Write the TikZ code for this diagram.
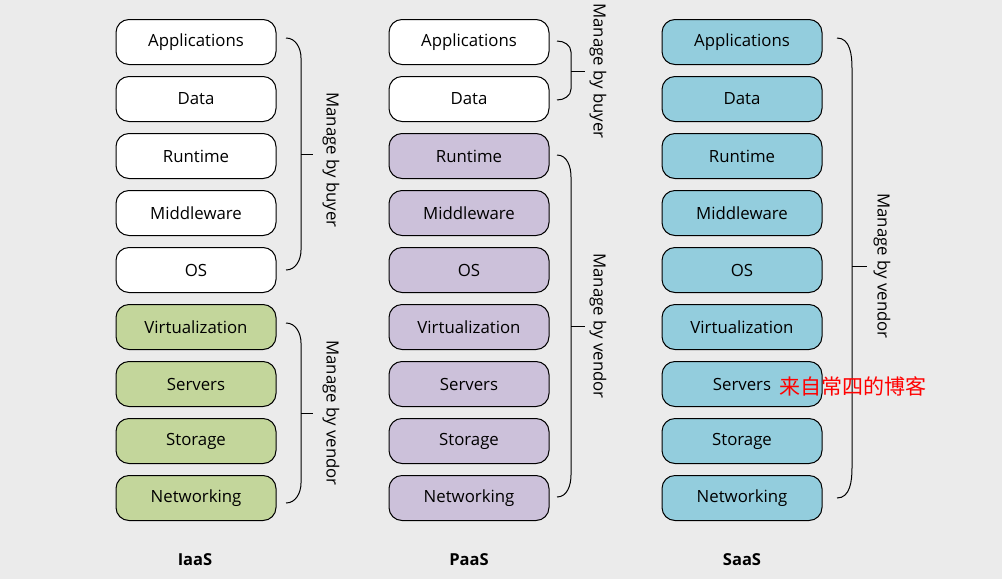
\documentclass[tikz,border=0pt]{standalone}
\usepackage{fontspec}
\setmainfont{Open Sans}
\newfontfamily\cjk{Noto Sans CJK SC}
\definecolor{bg}{HTML}{EBEBEB}
\definecolor{grn}{HTML}{C3D69B}
\definecolor{prp}{HTML}{CCC1DA}
\definecolor{blu}{HTML}{93CDDD}
\begin{document}
\begin{tikzpicture}[x=1pt,y=-1pt,
  layer/.style={draw=black, line width=1pt, rounded corners=13pt, minimum width=160pt, minimum height=45pt, inner sep=0pt, font=\fontsize{16.8}{19}\selectfont},
  wlayer/.style={layer, fill=white},
  glayer/.style={layer, fill=grn},
  player/.style={layer, fill=prp},
  blayer/.style={layer, fill=blu},
  brace/.style={draw=black, line width=1pt},
  blabel/.style={rotate=-90, font=\fontsize{16.8}{19}\selectfont},
  title/.style={font=\fontsize{16.5}{19}\selectfont\bfseries}]
\fill[bg] (0,0) rectangle (1002,579);
\useasboundingbox (0,0) rectangle (1002,579);
% IaaS
\foreach \t [count=\i] in {Applications,Data,Runtime,Middleware,OS}
  \node[wlayer] (i\i) at (196,{42+57*(\i-1)}) {\t};
\foreach \t [count=\i from 6] in {Virtualization,Servers,Storage,Networking}
  \node[glayer] (i\i) at (196,{42+57*(\i-1)}) {\t};
% PaaS
\foreach \t [count=\i] in {Applications,Data}
  \node[wlayer] (p\i) at (469,{42+57*(\i-1)}) {\t};
\foreach \t [count=\i from 3] in {Runtime,Middleware,OS,Virtualization,Servers,Storage,Networking}
  \node[player] (p\i) at (469,{42+57*(\i-1)}) {\t};
% SaaS
\foreach \t [count=\i] in {Applications,Data,Runtime,Middleware,OS,Virtualization,Servers,Storage,Networking}
  \node[blayer] (s\i) at (742,{42+57*(\i-1)}) {\t};
% braces
\coordinate (ibt) at (286,38); \coordinate (ibb) at (286,270);
\draw[brace] (ibt) to[out=0,in=90] (301,58) -- (301,250) to[out=-90,in=0] (ibb);
\draw[brace] (301,154) -- (313,154);
\node[blabel] (ibl) at (331,160) {Manage by buyer};
\coordinate (ivt) at (286,323); \coordinate (ivb) at (286,503);
\draw[brace] (ivt) to[out=0,in=90] (301,343) -- (301,483) to[out=-90,in=0] (ivb);
\draw[brace] (301,413) -- (313,413);
\node[blabel] (ivl) at (331,413) {Manage by vendor};
\coordinate (pbt) at (557,41); \coordinate (pbb) at (557,100);
\draw[brace] (pbt) to[out=0,in=90] (571,52) -- (571,89) to[out=-90,in=0] (pbb);
\draw[brace] (571,71) -- (585,71);
\node[blabel] (pbl) at (598,71) {Manage by buyer};
\coordinate (pvt) at (557,155); \coordinate (pvb) at (557,497);
\draw[brace] (pvt) to[out=0,in=90] (571,177) -- (571,475) to[out=-90,in=0] (pvb);
\draw[brace] (571,326) -- (585,326);
\node[blabel] (pvl) at (598,326) {Manage by vendor};
\coordinate (svt) at (837,38); \coordinate (svb) at (837,498);
\draw[brace] (svt) to[out=0,in=90] (852,68) -- (852,468) to[out=-90,in=0] (svb);
\draw[brace] (852,266) -- (867,266);
\node[blabel] (svl) at (882,266) {Manage by vendor};
% titles
\node[title] (ti) at (195,560) {IaaS};
\node[title] (tp) at (469,560) {PaaS};
\node[title] (ts) at (742,560) {SaaS};
% watermark
\node[text=red, anchor=west, inner sep=0pt, font=\cjk\fontsize{21}{24}\selectfont] (wm) at (779,386) {来自常四的博客};
\end{tikzpicture}
\end{document}
